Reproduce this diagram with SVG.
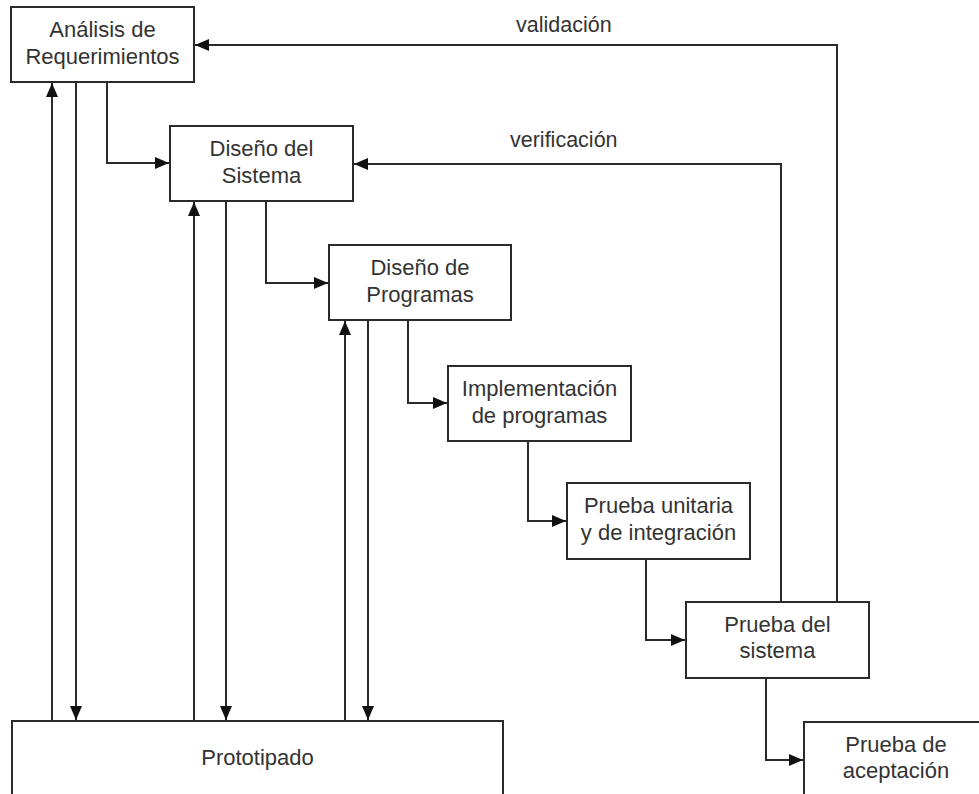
<svg xmlns="http://www.w3.org/2000/svg" width="979" height="794" viewBox="0 0 979 794">
  <defs>
    <marker id="arrow" viewBox="0 0 14 12" refX="14" refY="6" markerWidth="14" markerHeight="12" markerUnits="userSpaceOnUse" orient="auto">
      <path d="M0,0 L14,6 L0,12 Z" fill="#111"/>
    </marker>
  </defs>
  <style>
    .box { fill: #fff; stroke: #2a2a2a; stroke-width: 2; }
    .lbl { font-family: "Liberation Sans", Arial, sans-serif; font-size: 22px; fill: #333; text-anchor: middle; }
    .note { font-family: "Liberation Sans", Arial, sans-serif; font-size: 21.5px; fill: #333; }
    .edge { fill: none; stroke: #2a2a2a; stroke-width: 2; }
    .arr { marker-end: url(#arrow); }
  </style>
  <rect width="979" height="794" fill="#fff"/>

  <g id="connectors">
    <!-- feedback loops from system testing -->
    <polyline class="edge arr" points="837,602 837,45 195,45"/>
    <polyline class="edge arr" points="781,602 781,164 354,164"/>
    <!-- waterfall steps -->
    <polyline class="edge arr" points="107,82 107,163 169,163"/>
    <polyline class="edge arr" points="266,201 266,283 328,283"/>
    <polyline class="edge arr" points="408,320 408,403 447,403"/>
    <polyline class="edge arr" points="528,441 528,521 566,521"/>
    <polyline class="edge arr" points="646,559 646,640 685,640"/>
    <polyline class="edge arr" points="766,678 766,760 803,760"/>
    <!-- prototyping links -->
    <line class="edge arr" x1="52" y1="721" x2="52" y2="83"/>
    <line class="edge arr" x1="76" y1="82" x2="76" y2="720"/>
    <line class="edge arr" x1="194" y1="721" x2="194" y2="202"/>
    <line class="edge arr" x1="226" y1="201" x2="226" y2="720"/>
    <line class="edge arr" x1="345" y1="721" x2="345" y2="321"/>
    <line class="edge arr" x1="368" y1="320" x2="368" y2="720"/>
    <text class="note" x="516" y="32">validación</text>
    <text class="note" x="510" y="147">verificación</text>
  </g>

  <g id="analisis">
    <rect class="box" x="11" y="7" width="183" height="75"/>
    <text class="lbl" x="102.5" y="37">Análisis de</text>
    <text class="lbl" x="102.5" y="64">Requerimientos</text>
  </g>
  <g id="diseno-sistema">
    <rect class="box" x="170" y="126" width="183" height="75"/>
    <text class="lbl" x="261.5" y="156">Diseño del</text>
    <text class="lbl" x="261.5" y="183">Sistema</text>
  </g>
  <g id="diseno-programas">
    <rect class="box" x="329" y="245" width="182" height="75"/>
    <text class="lbl" x="420" y="275">Diseño de</text>
    <text class="lbl" x="420" y="302">Programas</text>
  </g>
  <g id="implementacion">
    <rect class="box" x="448" y="366" width="183" height="75"/>
    <text class="lbl" x="539.5" y="396">Implementación</text>
    <text class="lbl" x="539.5" y="423">de programas</text>
  </g>
  <g id="prueba-unitaria">
    <rect class="box" x="567" y="483" width="183" height="76"/>
    <text class="lbl" x="658.5" y="513">Prueba unitaria</text>
    <text class="lbl" x="658.5" y="540">y de integración</text>
  </g>
  <g id="prueba-sistema">
    <rect class="box" x="686" y="602" width="183" height="76"/>
    <text class="lbl" x="777.5" y="632">Prueba del</text>
    <text class="lbl" x="777.5" y="658">sistema</text>
  </g>
  <g id="prueba-aceptacion">
    <rect class="box" x="804" y="722" width="184" height="80"/>
    <text class="lbl" x="896" y="752">Prueba de</text>
    <text class="lbl" x="896" y="778">aceptación</text>
  </g>
  <g id="prototipado">
    <rect class="box" x="12" y="721" width="491" height="80"/>
    <text class="lbl" x="257.5" y="765">Prototipado</text>
  </g>
</svg>
